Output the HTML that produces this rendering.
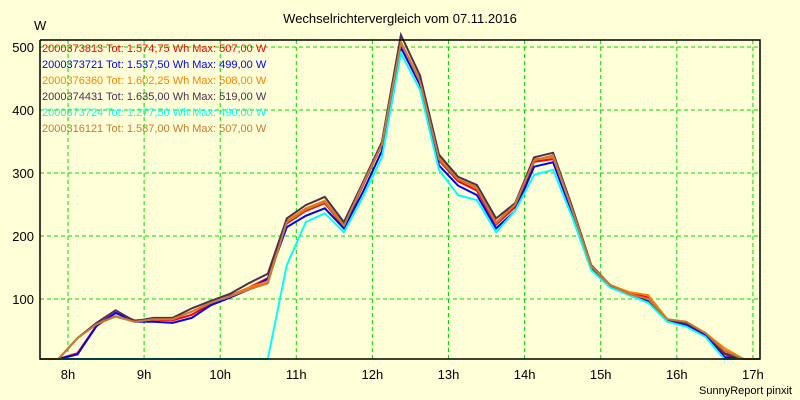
<!DOCTYPE html>
<html><head><meta charset="utf-8"><style>
body{margin:0;background:#ffffd8;}
svg{display:block;font-family:"Liberation Sans",sans-serif;}
</style></head><body>
<svg id="chart" width="800" height="400">
<rect x="0" y="0" width="800" height="400" fill="#ffffd8"/>
<text x="400" y="23" text-anchor="middle" font-size="13" fill="#000">Wechselrichtervergleich vom 07.11.2016</text>
<text x="34" y="30" font-size="13" fill="#000">W</text>
<g id="grid"></g>
<g id="series"></g>
<g id="axes"></g>
<g id="legend"></g>
<text x="792" y="394" text-anchor="end" font-size="11" fill="#000">SunnyReport pinxit</text>
</svg>
<script>
const times=[7.625,7.875,8.125,8.375,8.625,8.875,9.125,9.375,9.625,9.875,10.125,10.375,10.625,10.875,11.125,11.375,11.625,11.875,12.125,12.375,12.625,12.875,13.125,13.375,13.625,13.875,14.125,14.375,14.625,14.875,15.125,15.375,15.625,15.875,16.125,16.375,16.625,16.875,17.125];
const sRed=[0,3,14,58,78,66,67,66,75,92,105,118,133,220,240,252,215,280,345,507,445,320,287,272,218,246,318,322,240,150,122,110,102,68,60,44,12,0,0];
const sBlue=[0,3,12,57,78,64,64,62,70,90,102,115,132,214,232,244,212,270,335,499,440,312,280,265,212,240,310,317,236,148,120,108,96,65,58,42,8,0,0];
const sOrange=[0,5,38,60,73,64,68,68,80,94,104,118,128,224,244,256,218,282,346,508,448,325,290,278,222,250,322,325,242,152,122,111,106,68,62,46,22,0,0];
const sDark=[0,5,38,62,82,65,70,70,85,97,108,125,140,228,249,262,222,285,349,519,455,329,294,281,228,252,325,332,246,154,122,108,94,67,62,46,14,0,0];
const sCyan=[0,0,0,0,0,0,0,0,0,0,0,0,0,154,222,236,206,262,325,490,432,305,265,257,206,240,297,305,230,146,118,106,94,64,56,40,0,0,0];
const sBrown=[0,5,38,60,72,64,68,68,80,94,104,115,125,222,242,254,216,282,345,507,445,322,290,276,220,250,320,328,242,152,122,108,100,68,64,46,18,0,0];
const seriesNames=["2000373813","2000373721","2000376360","2000374431","2000373724","2000316121"];
const legendLabels=["Tot: 1.574,75 Wh Max: 507,00 W","Tot: 1.537,50 Wh Max: 499,00 W","Tot: 1.602,25 Wh Max: 508,00 W","Tot: 1.635,00 Wh Max: 519,00 W","Tot: 1.277,50 Wh Max: 490,00 W","Tot: 1.587,00 Wh Max: 507,00 W"];
const yTicks=[100,200,300,400,500];
const xTicks=[8,9,10,11,12,13,14,15,16,17];
const colors=["#ff0000","#0000ff","#ff8000","#4e2f4e","#00ffff","#c87a30"];
const allSeries=[sRed,sBlue,sOrange,sDark,sCyan,sBrown];
const NS="http://www.w3.org/2000/svg";
const L=40,R=760,T=40,B=359;
const xs=t=>68+(t-8)*76.1;
const ys=v=>Math.min(B,362-v*0.63);
function mk(tag,attrs,parent){const e=document.createElementNS(NS,tag);for(const k in attrs)e.setAttribute(k,attrs[k]);parent.appendChild(e);return e;}
const grid=document.getElementById('grid'),axes=document.getElementById('axes'),ser=document.getElementById('series'),leg=document.getElementById('legend');
yTicks.forEach(v=>{const y=ys(v);
 const l=mk('line',{x1:L,x2:R,y1:y,y2:y,stroke:'#00dd00','stroke-dasharray':'4,3','stroke-width':1},grid);
 
 
 const t=mk('text',{x:34,y:y+5,'text-anchor':'end','font-size':13},axes);t.textContent=v;
 
 
});
xTicks.forEach(h=>{const x=xs(h);
 const l=mk('line',{x1:x,x2:x,y1:T,y2:B,stroke:'#00dd00','stroke-dasharray':'4,3','stroke-width':1},grid);
 
 
 const t=mk('text',{x:x,y:379,'text-anchor':'middle','font-size':13},axes);t.textContent=h+'h';
 
 
});
const fr=mk('path',{d:`M${L},${T}V${B}H${R}V${T}H${L}`,fill:'none',stroke:'#000','stroke-width':1.5},axes);


allSeries.forEach((s,i)=>{
 const d=s.map((v,j)=>(j?'L':'M')+Math.min(R,xs(times[j])).toFixed(1)+','+ys(v).toFixed(1)).join('');
 const p=mk('path',{d:d,fill:'none',stroke:colors[i],'stroke-width':2,'stroke-linejoin':'miter'},ser);
 
 
 const t=mk('text',{x:42,y:52+i*16,'font-size':11,fill:colors[i]},leg);
 t.textContent=seriesNames[i]+' '+legendLabels[i];
 
 
});
</script>
</body></html>
